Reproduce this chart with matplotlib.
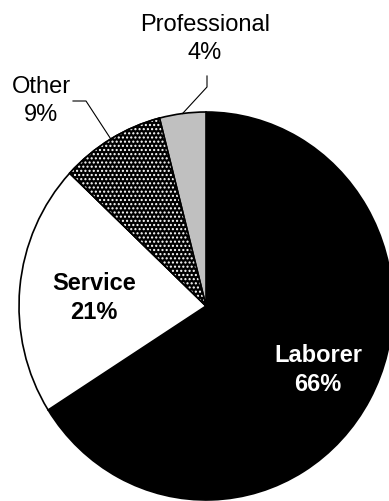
import numpy as np
import matplotlib
matplotlib.use('Agg')
import matplotlib.pyplot as plt
from matplotlib.patches import Wedge

labels = ['Laborer', 'Service', 'Other', 'Professional']
shares = [66, 21, 9, 4]
colors = ['black', 'white', 'black', '#c0c0c0']

W, H = 389, 502
cx, cy = 206, 307      # pie centre in pixels (from top-left)
rx, ry = 187, 194      # pie radii in pixels


def py(y):
    # pixel row -> data y
    return (cy - y) / ry


def px(x):
    return (x - cx) / rx


plt.rcParams['font.family'] = ['Liberation Sans', 'DejaVu Sans']

fig = plt.figure(figsize=(W / 100, H / 100), dpi=100)
ax = fig.add_axes([0, 0, 1, 1])

wedges, _ = ax.pie(shares, colors=colors, startangle=90, counterclock=False,
                   wedgeprops=dict(edgecolor='black', linewidth=1.2))

# white dot pattern over the "Other" slice
w = wedges[2]
ax.add_patch(Wedge(w.center, w.r, w.theta1, w.theta2, facecolor='none',
                   edgecolor='white', linewidth=0, hatch='....'))
ax.add_patch(Wedge(w.center, w.r, w.theta1, w.theta2, facecolor='none',
                   edgecolor='black', linewidth=1.2))

ax.set_aspect('auto')
ax.set_xlim(px(0), px(W))
ax.set_ylim(py(H), py(0))
ax.axis('off')

fs = 17
ls = 1.38
ax.text(px(318), py(370), 'Laborer\n66%', color='white', fontsize=fs,
        fontweight='bold', ha='center', va='center', linespacing=ls)
ax.text(px(94), py(298), 'Service\n21%', color='black', fontsize=fs,
        fontweight='bold', ha='center', va='center', linespacing=ls)
ax.text(px(41), py(101), 'Other\n9%', color='black', fontsize=fs,
        ha='center', va='center', linespacing=ls)
ax.text(px(205), py(39), 'Professional\n4%', color='black', fontsize=fs,
        ha='center', va='center', linespacing=ls)

# leader lines to the two small slices
for i, (sx, sy, kx, ky) in [(3, (207, 77, 207, 88)), (2, (73, 102, 86, 102))]:
    w = wedges[i]
    mid = np.deg2rad((w.theta1 + w.theta2) / 2)
    ax.plot([px(sx), px(kx), np.cos(mid)], [py(sy), py(ky), np.sin(mid)],
            color='black', linewidth=0.8)

fig.savefig('out.png', dpi=100)
